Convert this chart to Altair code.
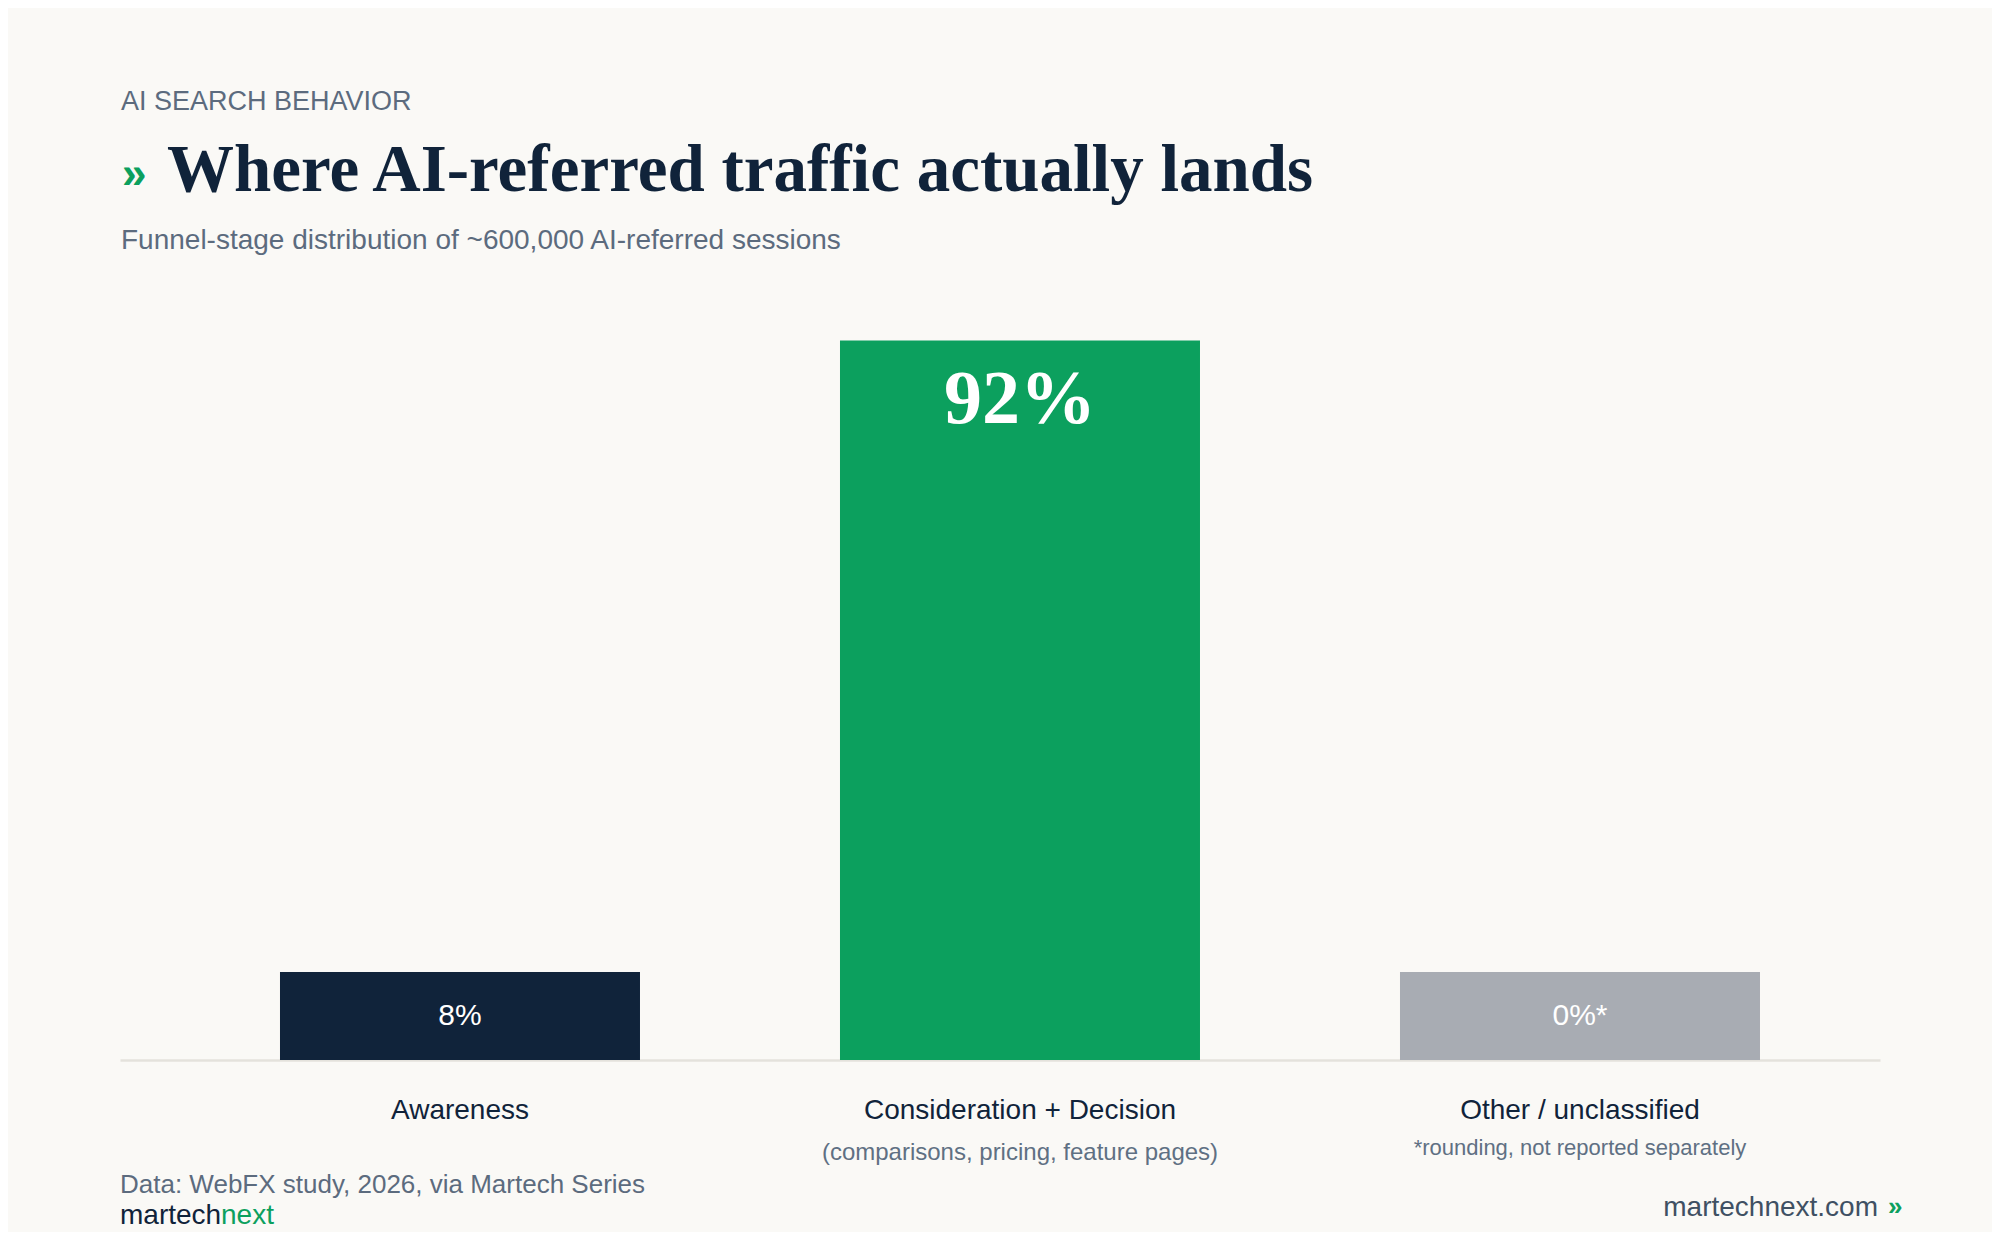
import altair as alt
import pandas as pd

# ---- data -------------------------------------------------------------
categories = ["Awareness", "Consideration + Decision", "Other / unclassified"]
shares = [8, 92, 0]
value_labels = ["8%", "92%", "0%*"]
sublabels = ["", "(comparisons, pricing, feature pages)", "*rounding, not reported separately"]

kicker = "AI SEARCH BEHAVIOR"
title_mark = "»"
title = "Where AI-referred traffic actually lands"
subtitle = "Funnel-stage distribution of ~600,000 AI-referred sessions"
source = "Data: WebFX study, 2026, via Martech Series"
brand_a, brand_b = "martech", "next"
site = "martechnext.com"

# ---- style ------------------------------------------------------------
NAVY = "#10233a"
GREEN = "#0ca05e"
GRAY = "#a8acb3"
MUTED = "#5c6b7e"
SUBMUTED = "#5f7083"
SITE = "#3f5063"
BG = "#faf9f6"
LINE = "#e4e2dc"
SANS = "Liberation Sans"
SERIF = "Liberation Serif"
W, H = 1760, 782
MIN_SHARE = 11.25  # minimum visible bar height (in % units)

df = pd.DataFrame({"category": categories, "share": shares,
                   "label": value_labels, "sub": sublabels})

base = alt.Chart(df).transform_calculate(
    shown=f"max(datum.share, {MIN_SHARE})",
    mid=f"max(datum.share, {MIN_SHARE}) / 2",
)

x_enc = alt.X(
    "category:N", sort=categories,
    scale=alt.Scale(paddingInner=0.357143, paddingOuter=0.25, align=0.5714),
    axis=alt.Axis(title=None, labels=False, ticks=False, grid=False,
                  domain=True, domainColor=LINE, domainWidth=2.5),
)
yscale = alt.Scale(domain=[0, 100])

bars = base.mark_bar().encode(
    x=x_enc,
    y=alt.Y("shown:Q", scale=yscale, axis=None),
    color=alt.Color("category:N", scale=alt.Scale(domain=categories, range=[NAVY, GREEN, GRAY]), legend=None),
)

big_val = base.transform_filter("datum.share >= 50").mark_text(
    font=SERIF, fontWeight="bold", fontSize=76, color="white",
    baseline="alphabetic", dy=82,
).encode(x=x_enc, y=alt.Y("shown:Q", scale=yscale, axis=None), text="label:N")

small_val = base.transform_filter("datum.share < 50").mark_text(
    font=SANS, fontSize=30, color="white", baseline="middle",
).encode(x=x_enc, y=alt.Y("mid:Q", scale=yscale, axis=None), text="label:N")

cat_lab = base.mark_text(
    font=SANS, fontSize=28, color=NAVY, baseline="alphabetic",
).encode(x=x_enc, y=alt.value(841), text="category:N")

sub_lab = base.transform_filter(alt.datum.category == categories[1]).mark_text(
    font=SANS, fontSize=24, color=SUBMUTED, baseline="alphabetic",
).encode(x=x_enc, y=alt.value(882), text="sub:N")

note_lab = base.transform_filter(alt.datum.category == categories[2]).mark_text(
    font=SANS, fontSize=22, color=SUBMUTED, baseline="alphabetic",
).encode(x=x_enc, y=alt.value(877), text="sub:N")


def label(txt, x, y, **kw):
    return alt.Chart(pd.DataFrame({"t": [txt]})).mark_text(
        align=kw.pop("align", "left"), baseline="alphabetic", **kw
    ).encode(x=alt.value(x), y=alt.value(y), text="t:N")


header = [
    label(kicker, 1, -168, font=SANS, fontSize=27, color=MUTED),
    label(title_mark, 2, -90, font=SANS, fontSize=44, fontWeight="bold", color=GREEN),
    label(title, 47, -87, font=SERIF, fontSize=67, fontWeight="bold", color=NAVY),
    label(subtitle, 1, -29, font=SANS, fontSize=28, color=MUTED),
]
footer = [
    label(source, 0, 915, font=SANS, fontSize=26, color=MUTED),
    label(brand_a, 0, 946, font=SANS, fontSize=28, color=NAVY),
    label(brand_b, 101, 946, font=SANS, fontSize=28, color=GREEN),
    label(site, 1758, 938, font=SANS, fontSize=28, color=SITE, align="right"),
    label(title_mark, 1768, 937, font=SANS, fontSize=26, fontWeight="bold", color=GREEN),
]

chart = alt.layer(
    bars, big_val, small_val, cat_lab, sub_lab, note_lab, *header, *footer
).properties(
    width=W, height=H,
    autosize=alt.AutoSizeParams(type="none"),
    padding={"left": 112, "top": 270, "right": 112, "bottom": 172},
    background=BG,
).configure_view(stroke=None)

chart.save("out.html", embed_options={"renderer": "svg", "actions": False})
